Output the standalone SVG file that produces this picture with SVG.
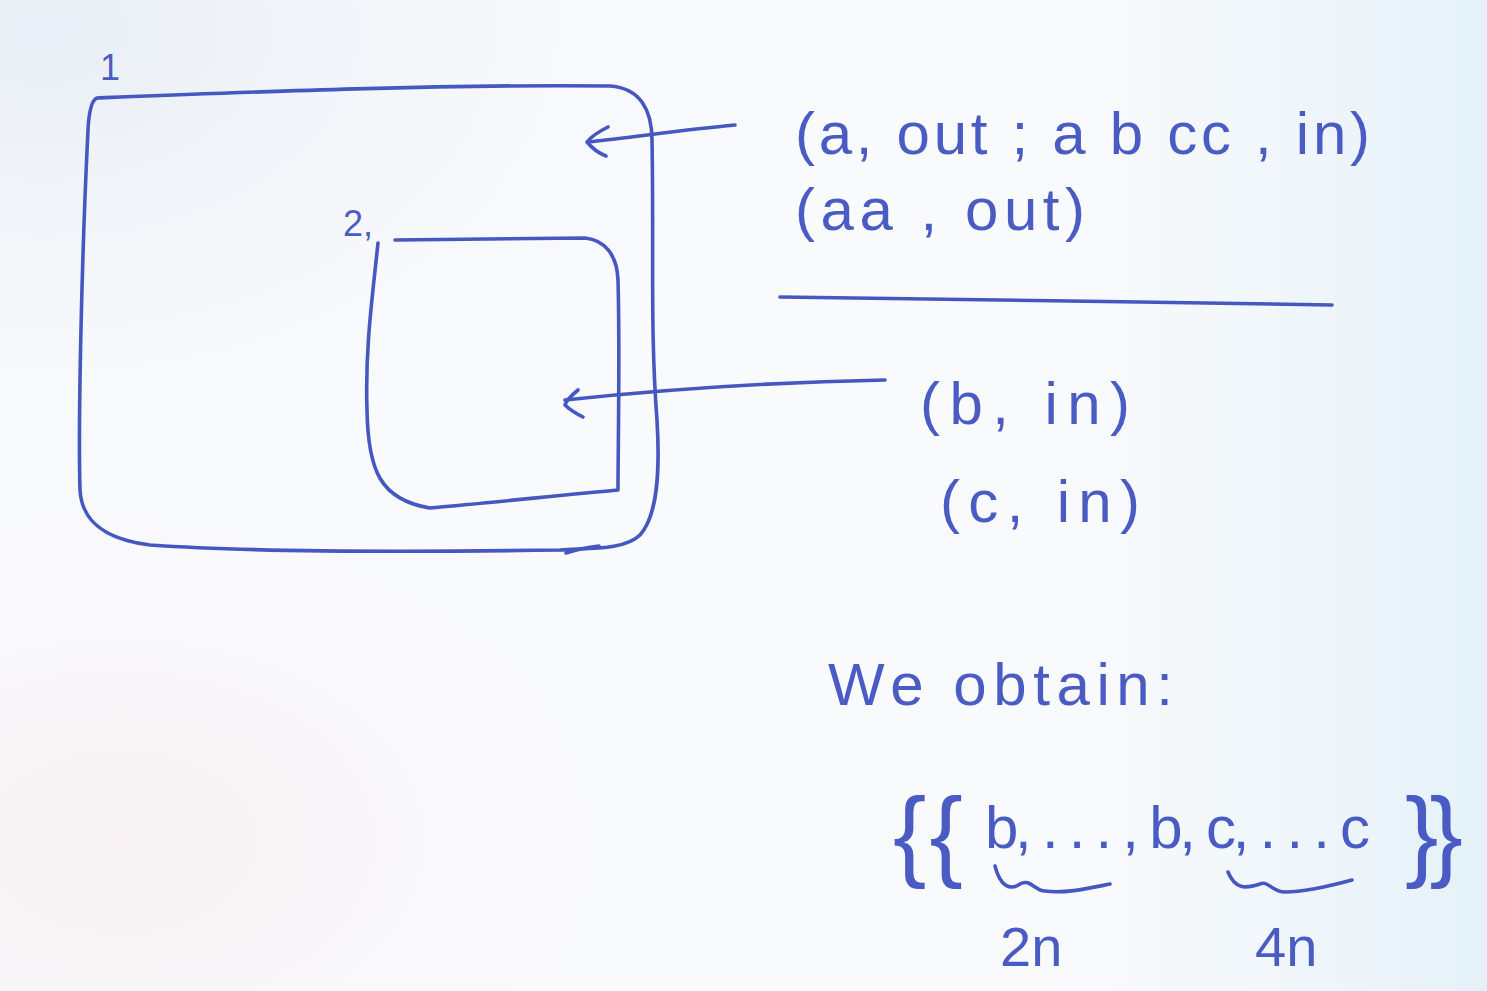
<svg xmlns="http://www.w3.org/2000/svg" width="1487" height="991" viewBox="0 0 1487 991">
  <defs>
    <radialGradient id="paperTL" cx="0.03" cy="0.03" r="0.55">
      <stop offset="0" stop-color="#e8eef5"/>
      <stop offset="1" stop-color="#f9fafc" stop-opacity="0"/>
    </radialGradient>
    <radialGradient id="paperBL" cx="0.08" cy="0.85" r="0.45">
      <stop offset="0" stop-color="#f7f1f3"/>
      <stop offset="1" stop-color="#f9fafc" stop-opacity="0"/>
    </radialGradient>
    <linearGradient id="paperR" x1="0" y1="0" x2="1" y2="0">
      <stop offset="0.7" stop-color="#eef6fb" stop-opacity="0"/>
      <stop offset="1" stop-color="#e4f1f8"/>
    </linearGradient>
    <style>
      .ink { fill: none; stroke: #4557c0; stroke-width: 3.6; stroke-linecap: round; stroke-linejoin: round; }
      .hand { fill: #4a5cc4; font-family: "Liberation Sans", "DejaVu Sans", sans-serif; }
      .rule { font-size: 60px; }
      .num { font-size: 36px; }
    </style>
  </defs>

  <!-- paper -->
  <rect width="1487" height="991" fill="#f9fafc"/>
  <rect width="1487" height="991" fill="url(#paperTL)"/>
  <rect width="1487" height="991" fill="url(#paperBL)"/>
  <rect width="1487" height="991" fill="url(#paperR)"/>

  <!-- skin membrane 1 -->
  <g id="membrane-1">
    <path class="ink" d="M 97 98 C 250 92, 450 84, 610 86 C 640 88, 652 110, 652 140 C 654 250, 650 330, 657 420 C 660 470, 658 515, 640 535 C 625 550, 590 548, 560 550 C 420 552, 250 552, 150 545 C 110 540, 82 525, 80 490 C 78 420, 82 250, 88 130 C 89 110, 92 100, 97 98 Z"/>
    <path class="ink" d="M 566 553 C 578 549, 590 547, 599 546"/>
    <text class="hand num" x="100" y="80">1</text>
  </g>

  <!-- inner membrane 2 -->
  <g id="membrane-2">
    <path class="ink" d="M 378 243 C 372 300, 365 350, 367 410 C 368 470, 380 500, 430 508 C 500 502, 560 495, 618 490 C 618 450, 620 350, 618 280 C 617 255, 605 240, 585 238 L 395 240"/>
    <text class="hand num" x="343" y="236">2,</text>
  </g>

  <!-- rules of membrane 1 -->
  <g id="rules-1">
    <text class="hand rule" x="795" y="154" textLength="575" lengthAdjust="spacing">(a, out ; a b cc , in)</text>
    <text class="hand rule" x="795" y="230" textLength="290" lengthAdjust="spacing">(aa , out)</text>
    <path class="ink" d="M 780 297 C 950 299, 1150 302, 1332 305"/>
  </g>

  <!-- rules of membrane 2 -->
  <g id="rules-2">
    <text class="hand rule" x="920" y="424" textLength="210" lengthAdjust="spacing">(b, in)</text>
    <text class="hand rule" x="940" y="522" textLength="200" lengthAdjust="spacing">(c, in)</text>
  </g>

  <!-- result -->
  <g id="result">
    <text class="hand rule" x="828" y="705" textLength="345" lengthAdjust="spacing">We obtain:</text>
    <text class="hand" font-size="100" x="893" y="868" textLength="70" lengthAdjust="spacing">{{</text>
    <text class="hand rule" x="985" y="848" textLength="385" lengthAdjust="spacing">b, . . . , b, c, . . . c</text>
    <text class="hand" font-size="100" x="1405" y="868" textLength="58" lengthAdjust="spacing">}}</text>
    <path class="ink" d="M 995 866 C 1000 886, 1010 891, 1020 884 C 1030 878, 1035 891, 1045 891 C 1065 894, 1090 888, 1110 884"/>
    <path class="ink" d="M 1228 872 C 1235 889, 1245 889, 1260 884 C 1268 880, 1272 892, 1285 892 C 1305 892, 1330 886, 1352 880"/>
    <text class="hand" font-size="56" x="1000" y="966">2n</text>
    <text class="hand" font-size="56" x="1255" y="966">4n</text>
  </g>

  <!-- arrows from rule sets to their membranes -->
  <g id="connectors">
    <path class="ink" d="M 735 125 C 680 130, 630 138, 588 142"/>
    <path class="ink" d="M 608 127 C 598 132, 590 138, 587 142 C 592 148, 598 153, 606 156"/>
    <path class="ink" d="M 885 380 C 780 382, 660 390, 565 400"/>
    <path class="ink" d="M 578 390 C 572 395, 566 400, 565 405 C 570 410, 575 413, 583 417"/>
  </g>
</svg>
